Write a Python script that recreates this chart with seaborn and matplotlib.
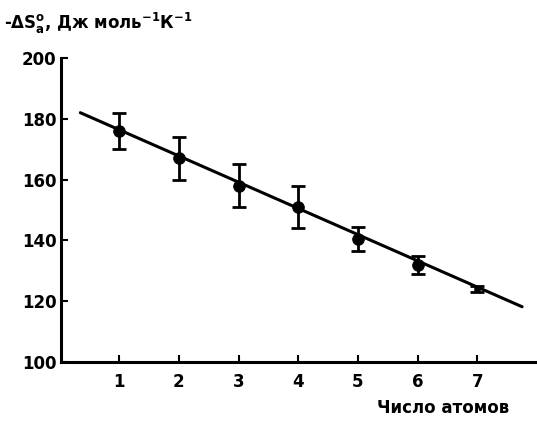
import numpy as np
import pandas as pd
import matplotlib
matplotlib.use('Agg')
import matplotlib.pyplot as plt
import seaborn as sns

# ================= 数据 =================
n_atoms = [1, 2, 3, 4, 5, 6, 7]
dS = [176, 167, 158, 151, 140.5, 132, 124]
dS_err = [6, 7, 7, 7, 4, 3, 1]

# fitted line end points
fit_x = [0.35, 7.75]
fit_y = [182, 118.2]

x_ticks = [1, 2, 3, 4, 5, 6, 7]
y_ticks = [100, 120, 140, 160, 180, 200]

# ================= 样式 =================
sns.set_style("ticks")
plt.rcParams['font.family'] = ['DejaVu Sans']
plt.rcParams['font.weight'] = 'bold'
plt.rcParams['mathtext.default'] = 'bf'
plt.rcParams['text.color'] = 'black'

df = pd.DataFrame({'n': n_atoms, 'dS': dS, 'err': dS_err})
df_fit = pd.DataFrame({'x': fit_x, 'y': fit_y})

fig = plt.figure(figsize=(5.37, 4.23), dpi=100)
ax = fig.add_axes([0.114, 0.144, 0.886, 0.719])

sns.lineplot(data=df_fit, x='x', y='y', color='black', linewidth=2.2, ax=ax)
ax.errorbar(df['n'], df['dS'], yerr=df['err'], fmt='none', ecolor='black',
            elinewidth=2, capsize=5, capthick=2)
sns.scatterplot(data=df.iloc[:6], x='n', y='dS', color='black', s=70, edgecolor='black',
                ax=ax, zorder=5)
sns.scatterplot(data=df.iloc[6:], x='n', y='dS', color='black', s=20, edgecolor='black',
                ax=ax, zorder=5)

ax.set_xlim(0.03, 8.0)
ax.set_ylim(100, 200)
ax.set_xticks(x_ticks)
ax.set_yticks(y_ticks)
ax.tick_params(direction='in', length=5, width=1.5, labelsize=12, colors='black')
ax.tick_params(axis='x', pad=8)
for lab in ax.get_xticklabels() + ax.get_yticklabels():
    lab.set_fontweight('bold')

sns.despine(ax=ax)
ax.spines['left'].set_linewidth(2.2)
ax.spines['bottom'].set_linewidth(2.2)
ax.spines['left'].set_color('black')
ax.spines['bottom'].set_color('black')

ax.set_xlabel('')
ax.set_ylabel('')
fig.text(0.008, 0.945, r'-ΔS$_a^o$, Дж моль$^{-1}$К$^{-1}$', fontsize=12,
         fontweight='bold', ha='left', va='center', color='black')
fig.text(0.825, 0.035, 'Число атомов', fontsize=12, fontweight='bold',
         ha='center', va='center', color='black')

plt.savefig('out.png', dpi=100)
